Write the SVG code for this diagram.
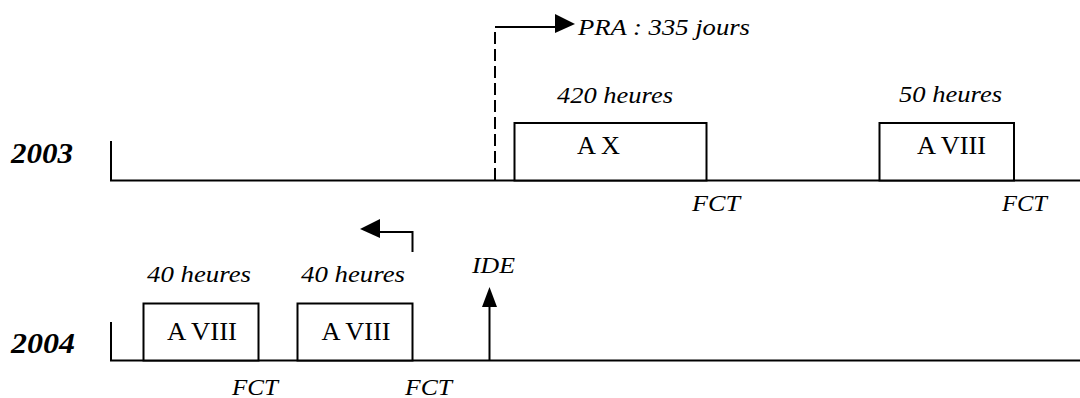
<svg xmlns="http://www.w3.org/2000/svg" width="1080" height="398" viewBox="0 0 1080 398">
  <style>
    .ln { stroke: #000; stroke-width: 2; fill: none; }
    .box { stroke: #000; stroke-width: 2; fill: #fff; }
    .dash { stroke: #000; stroke-width: 2; fill: none; stroke-dasharray: 12 5; }
    .head { fill: #000; stroke: none; }
    .it { font-family: 'Liberation Serif', 'DejaVu Serif', serif; font-style: italic; font-size: 24px; fill: #000; }
    .lbl { font-family: 'Liberation Serif', 'DejaVu Serif', serif; font-size: 25px; fill: #000; }
    .yr { font-family: 'Liberation Serif', 'DejaVu Serif', serif; font-style: italic; font-weight: bold; font-size: 29px; fill: #000; }
  </style>
  <rect width="1080" height="398" fill="#fff"/>

  <g id="year2003">
    <text class="yr" x="11" y="163" textLength="62" lengthAdjust="spacingAndGlyphs">2003</text>
  </g>
  <g id="year2004">
    <text class="yr" x="11" y="353" textLength="64" lengthAdjust="spacingAndGlyphs">2004</text>
  </g>

  <g id="timeline2003">
    <path class="ln" d="M111,141 V180.5 H1080"/>
  </g>
  <g id="timeline2004">
    <path class="ln" d="M111,322 V360.5 H1080"/>
  </g>

  <g id="ax2003">
    <rect class="box" x="514.5" y="123" width="192" height="57.5"/>
    <text class="it" x="557" y="103" textLength="116" lengthAdjust="spacingAndGlyphs">420 heures</text>
    <text class="lbl" x="577" y="154" textLength="43" lengthAdjust="spacingAndGlyphs">A X</text>
    <text class="it" x="692" y="211" textLength="48" lengthAdjust="spacingAndGlyphs">FCT</text>
  </g>

  <g id="aviii2003">
    <rect class="box" x="879.5" y="123" width="134.5" height="57.5"/>
    <text class="it" x="899" y="102" textLength="103" lengthAdjust="spacingAndGlyphs">50 heures</text>
    <text class="lbl" x="917" y="154" textLength="69" lengthAdjust="spacingAndGlyphs">A VIII</text>
    <text class="it" x="1002" y="211" textLength="45" lengthAdjust="spacingAndGlyphs">FCT</text>
  </g>

  <g id="aviii2004a">
    <rect class="box" x="143.5" y="303.5" width="115" height="57"/>
    <text class="it" x="147" y="282" textLength="104" lengthAdjust="spacingAndGlyphs">40 heures</text>
    <text class="lbl" x="167" y="340" textLength="70" lengthAdjust="spacingAndGlyphs">A VIII</text>
    <text class="it" x="232" y="395" textLength="46" lengthAdjust="spacingAndGlyphs">FCT</text>
  </g>

  <g id="aviii2004b">
    <rect class="box" x="297.5" y="303.5" width="115" height="57"/>
    <text class="it" x="301" y="282" textLength="104" lengthAdjust="spacingAndGlyphs">40 heures</text>
    <text class="lbl" x="321.5" y="340" textLength="69" lengthAdjust="spacingAndGlyphs">A VIII</text>
    <text class="it" x="405" y="395" textLength="47" lengthAdjust="spacingAndGlyphs">FCT</text>
  </g>

  <g id="pra">
    <text class="it" x="578" y="35" textLength="172" lengthAdjust="spacingAndGlyphs">PRA : 335 jours</text>
  </g>

  <g id="ide">
    <text class="it" x="472" y="273" textLength="43" lengthAdjust="spacingAndGlyphs">IDE</text>
  </g>

  <g id="connectors">
    <path class="dash" d="M495,180 V27"/>
    <path class="ln" d="M495,27 H557"/>
    <polygon class="head" points="555,14 575,24 555,33"/>

    <path class="ln" d="M412.5,252 V232 H378"/>
    <polygon class="head" points="380,219 360,229 380,238"/>

    <path class="ln" d="M489.5,360 V306"/>
    <polygon class="head" points="482,307 489.5,287 497,307"/>
  </g>
</svg>
